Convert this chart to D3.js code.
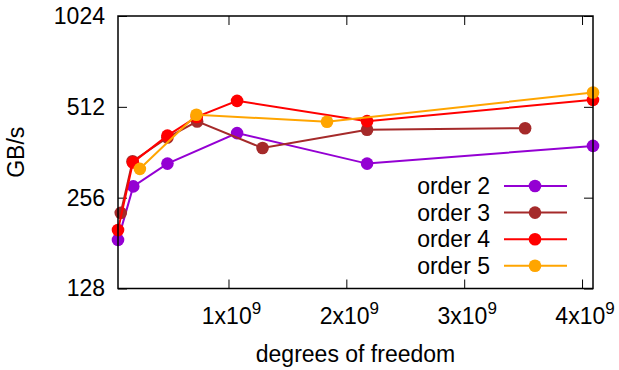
<!DOCTYPE html>
<html>
<head>
<meta charset="utf-8">
<script src="https://cdn.jsdelivr.net/npm/d3@7"></script>
<style>
  html, body { margin: 0; padding: 0; background: #fff; }
  svg { display: block; font-family: "Liberation Sans", Arial, sans-serif; }
</style>
</head>
<body>
<svg id="chart" width="619" height="370"></svg>
<script>
// Throughput (GB/s) against problem size (degrees of freedom) per polynomial order
const seriesNames = ["order 2", "order 3", "order 4", "order 5"];
const seriesColors = ["#9400d3", "#a52a2a", "#ff0000", "#ffa500"];

const dofOrder2 = [0.0625e9, 0.192e9, 0.482e9, 1.073e9, 2.176e9, 4.093e9];
const gbsOrder2 = [185.5, 279, 332, 419, 332, 380];

const dofOrder3 = [0.086e9, 0.186e9, 0.482e9, 0.734e9, 1.289e9, 2.176e9, 3.517e9];
const gbsOrder3 = [228, 338, 405, 458, 374, 430, 435];

const dofOrder4 = [0.0625e9, 0.189e9, 0.482e9, 0.731e9, 1.073e9, 2.176e9, 4.093e9];
const gbsOrder4 = [200, 335, 411, 474, 536, 459, 540];

const dofOrder5 = [0.248e9, 0.728e9, 1.836e9, 4.093e9];
const gbsOrder5 = [319, 482, 457, 571];

const xTickValues = [1e9, 2e9, 3e9, 4e9];
const yTickValues = [128, 256, 512, 1024];

const series = [
  { name: seriesNames[0], color: seriesColors[0], pts: d3.zip(dofOrder2, gbsOrder2) },
  { name: seriesNames[1], color: seriesColors[1], pts: d3.zip(dofOrder3, gbsOrder3) },
  { name: seriesNames[2], color: seriesColors[2], pts: d3.zip(dofOrder4, gbsOrder4) },
  { name: seriesNames[3], color: seriesColors[3], pts: d3.zip(dofOrder5, gbsOrder5) }
];

const svg = d3.select("#chart");
const W = 619, H = 370;
const m = { left: 118, right: 26, top: 16, bottom: 81.5 };
const x0 = m.left, x1 = W - m.right, y0 = H - m.bottom, y1 = m.top;
const FONT = 23;

const allX = [].concat(dofOrder2, dofOrder3, dofOrder4, dofOrder5);
const x = d3.scaleLinear().domain(d3.extent(allX)).range([x0, x1]);
const y = d3.scaleLog().base(2).domain([128, 1024]).range([y0, y1]);

const TICK = 9;

// left axis with labels, inward ticks
const gl = svg.append("g").attr("transform", `translate(${x0},0)`)
  .call(d3.axisLeft(y).tickValues(yTickValues).tickFormat(d3.format("d"))
    .tickSize(-TICK).tickSizeOuter(0).tickPadding(13));
gl.select(".domain").remove();
gl.selectAll("text").attr("font-size", FONT).attr("font-family", "Liberation Sans, Arial, sans-serif").attr("fill", "#000");

// right mirror ticks
const gr = svg.append("g").attr("transform", `translate(${x1},0)`)
  .call(d3.axisRight(y).tickValues(yTickValues).tickFormat("").tickSize(-TICK).tickSizeOuter(0));
gr.select(".domain").remove();

// bottom axis; labels rebuilt as mantissa x 10 with superscript exponent
const gb = svg.append("g").attr("transform", `translate(0,${y0})`)
  .call(d3.axisBottom(x).tickValues(xTickValues).tickFormat("").tickSize(-TICK).tickSizeOuter(0));
gb.select(".domain").remove();

const xLabels = svg.append("g").attr("font-size", FONT).attr("fill", "#000");
xTickValues.forEach(v => {
  const t = xLabels.append("text").attr("x", x(v) + 3).attr("y", 324).attr("text-anchor", "middle");
  t.append("tspan").text(`${v / 1e9}x10`);
  t.append("tspan").attr("dy", -10).attr("font-size", 17).text("9");
});

// top mirror ticks
const gt = svg.append("g").attr("transform", `translate(0,${y1})`)
  .call(d3.axisTop(x).tickValues(xTickValues).tickFormat("").tickSize(-TICK).tickSizeOuter(0));
gt.select(".domain").remove();

svg.selectAll(".tick line").attr("stroke", "#000").attr("stroke-width", 1);

// series lines and markers
const line = d3.line().x(d => x(d[0])).y(d => y(d[1]));
series.forEach(s => {
  svg.append("path").datum(s.pts)
    .attr("d", line).attr("fill", "none").attr("stroke", s.color).attr("stroke-width", 2);
  svg.append("g").selectAll("circle").data(s.pts).join("circle")
    .attr("cx", d => x(d[0])).attr("cy", d => y(d[1])).attr("r", 6.3).attr("fill", s.color);
});

// plot border
svg.append("rect").attr("x", x0).attr("y", y1).attr("width", x1 - x0).attr("height", y0 - y1)
  .attr("fill", "none").attr("stroke", "#000").attr("stroke-width", 1.5);

// legend
const leg = svg.append("g");
series.forEach((s, i) => {
  const ly = 186 + i * 26.6;
  leg.append("text").attr("x", 490).attr("y", ly).attr("dy", "0.35em")
    .attr("text-anchor", "end").attr("font-size", FONT).attr("fill", "#000").text(s.name);
  leg.append("line").attr("x1", 504).attr("x2", 567).attr("y1", ly).attr("y2", ly)
    .attr("stroke", s.color).attr("stroke-width", 2);
  leg.append("circle").attr("cx", 535).attr("cy", ly).attr("r", 6.3).attr("fill", s.color);
});

// axis titles
svg.append("text").attr("x", (x0 + x1) / 2).attr("y", 362).attr("text-anchor", "middle")
  .attr("font-size", FONT).attr("fill", "#000").text("degrees of freedom");
svg.append("text").attr("transform", `translate(24,${(y0 + y1) / 2}) rotate(-90)`)
  .attr("text-anchor", "middle").attr("font-size", FONT).attr("fill", "#000").text("GB/s");
</script>
</body>
</html>
